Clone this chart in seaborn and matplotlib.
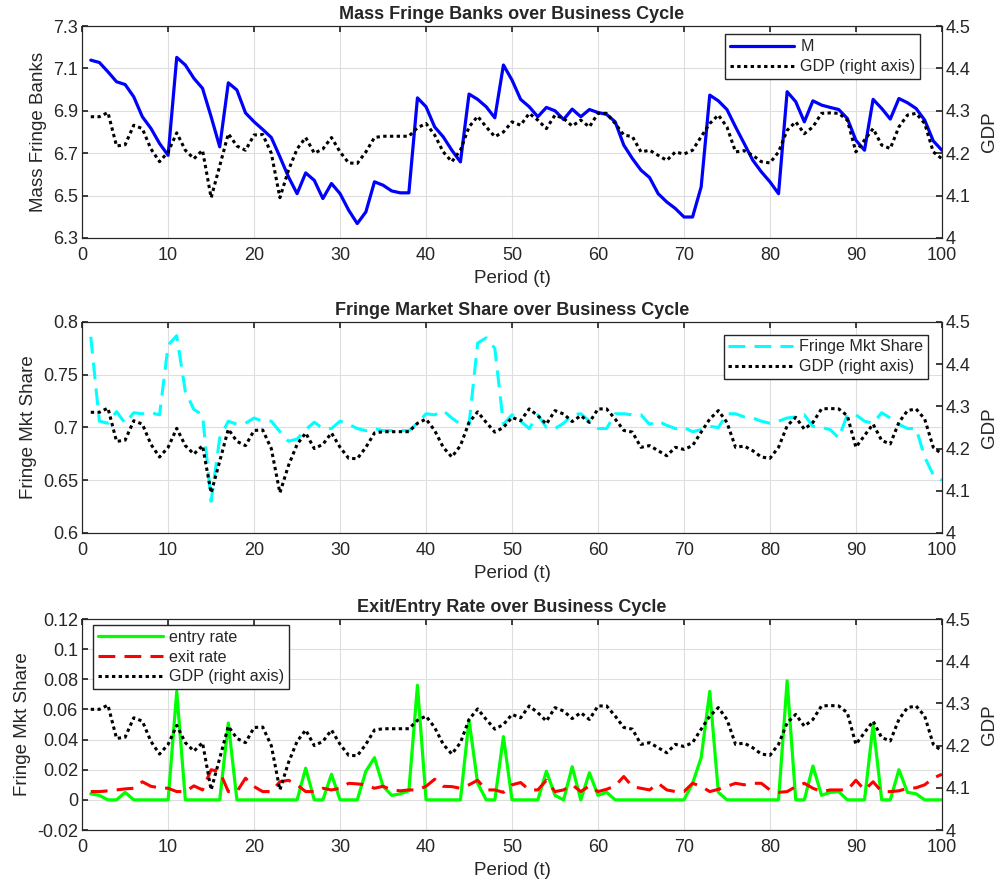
import numpy as np
import pandas as pd
import matplotlib
matplotlib.use('Agg')
import matplotlib.pyplot as plt
import seaborn as sns
from matplotlib.ticker import FuncFormatter

sns.set_theme(style='white')
plt.rcParams['font.family'] = ['Liberation Sans', 'DejaVu Sans']

# data
period = np.arange(1, 101)

gdp = [4.286, 4.286, 4.296, 4.217, 4.22, 4.266, 4.258, 4.21, 4.18, 4.203,
       4.248, 4.207, 4.187, 4.207, 4.095, 4.17, 4.246, 4.217, 4.207, 4.243,
       4.244, 4.2, 4.095, 4.16, 4.21, 4.237, 4.2, 4.21, 4.237, 4.203,
       4.177, 4.176, 4.203, 4.237, 4.24, 4.24, 4.24, 4.24, 4.26, 4.27,
       4.243, 4.203, 4.18, 4.207, 4.262, 4.287, 4.262, 4.239, 4.25, 4.274,
       4.266, 4.294, 4.278, 4.258, 4.29, 4.282, 4.264, 4.278, 4.262, 4.294,
       4.294, 4.27, 4.243, 4.239, 4.203, 4.207, 4.195, 4.183, 4.203, 4.198,
       4.207, 4.239, 4.27, 4.29, 4.262, 4.203, 4.206, 4.195, 4.18, 4.177,
       4.203, 4.254, 4.274, 4.246, 4.262, 4.294, 4.295, 4.294, 4.278, 4.203,
       4.231, 4.258, 4.219, 4.211, 4.262, 4.29, 4.294, 4.27, 4.203, 4.187]

mass_fringe = [7.139, 7.128, 7.084, 7.037, 7.024, 6.966, 6.872, 6.817, 6.746, 6.69,
               7.152, 7.116, 7.053, 7.006, 6.872, 6.73, 7.032, 6.998, 6.89, 6.848,
               6.812, 6.774, 6.683, 6.588, 6.509, 6.607, 6.572, 6.486, 6.557, 6.509,
               6.431, 6.368, 6.423, 6.565, 6.549, 6.522, 6.513, 6.513, 6.961, 6.919,
               6.824, 6.777, 6.714, 6.659, 6.979, 6.954, 6.919, 6.867, 7.116, 7.045,
               6.954, 6.919, 6.872, 6.916, 6.9, 6.859, 6.908, 6.872, 6.906, 6.892,
               6.883, 6.848, 6.738, 6.675, 6.62, 6.585, 6.509, 6.47, 6.439, 6.399,
               6.399, 6.541, 6.974, 6.947, 6.906, 6.824, 6.746, 6.667, 6.612, 6.565,
               6.509, 6.99, 6.943, 6.848, 6.947, 6.927, 6.916, 6.906, 6.864, 6.761,
               6.714, 6.954, 6.911, 6.861, 6.958, 6.938, 6.911, 6.856, 6.758, 6.714]

fringe_share = [0.786, 0.706, 0.704, 0.715, 0.704, 0.714, 0.713, 0.714, 0.712, 0.778,
                0.787, 0.734, 0.717, 0.712, 0.63, 0.69, 0.706, 0.703, 0.704, 0.709,
                0.706, 0.706, 0.696, 0.687, 0.689, 0.698, 0.705, 0.699, 0.699, 0.706,
                0.703, 0.699, 0.697, 0.699, 0.697, 0.697, 0.697, 0.697, 0.704, 0.713,
                0.712, 0.716, 0.709, 0.703, 0.703, 0.78, 0.785, 0.775, 0.703, 0.712,
                0.706, 0.699, 0.712, 0.7, 0.699, 0.704, 0.712, 0.713, 0.706, 0.699,
                0.699, 0.713, 0.713, 0.712, 0.712, 0.703, 0.706, 0.702, 0.699, 0.7,
                0.696, 0.698, 0.701, 0.7, 0.713, 0.713, 0.71, 0.709, 0.706, 0.704,
                0.706, 0.709, 0.71, 0.712, 0.701, 0.7, 0.698, 0.69, 0.712, 0.712,
                0.706, 0.704, 0.714, 0.709, 0.703, 0.699, 0.699, 0.672, 0.655, 0.65]

entry_rate = [0.004, 0.003, 0, 0, 0.005, 0, 0, 0, 0, 0,
              0.072, 0, 0, 0, 0, 0, 0.051, 0, 0, 0,
              0, 0, 0, 0, 0, 0.021, 0, 0, 0.017, 0,
              0, 0, 0.019, 0.028, 0.009, 0.003, 0.004, 0.006, 0.076, 0,
              0, 0, 0, 0, 0.053, 0.011, 0, 0, 0.042, 0,
              0, 0, 0, 0.019, 0.003, 0, 0.022, 0, 0.018, 0.003,
              0.005, 0, 0, 0, 0, 0, 0, 0, 0, 0,
              0.011, 0.028, 0.072, 0.005, 0, 0, 0, 0, 0, 0,
              0, 0.079, 0, 0, 0.0225, 0.003, 0.005, 0.0055, 0, 0,
              0, 0.05, 0, 0, 0.02, 0.005, 0.004, 0, 0, 0]

exit_rate = [0.0055, 0.0055, 0.006, 0.0066, 0.0073, 0.0077, 0.012, 0.009, 0.008, 0.0077,
             0.0055, 0.0055, 0.0093, 0.0066, 0.02, 0.0188, 0.0055, 0.0055, 0.0144, 0.0088,
             0.0055, 0.0055, 0.012, 0.013, 0.01, 0.0055, 0.0055, 0.0077, 0.0066, 0.0077,
             0.011, 0.0106, 0.01, 0.0077, 0.009, 0.0066, 0.006, 0.0066, 0.0066, 0.009,
             0.0137, 0.009, 0.0088, 0.0077, 0.01, 0.013, 0.0066, 0.0066, 0.005, 0.01,
             0.0115, 0.0066, 0.0066, 0.013, 0.0055, 0.0066, 0.01, 0.0055, 0.0093, 0.0055,
             0.007, 0.0093, 0.0155, 0.0088, 0.0077, 0.0066, 0.011, 0.0066, 0.0055, 0.0055,
             0.011, 0.009, 0.0055, 0.007, 0.009, 0.011, 0.01, 0.011, 0.011, 0.0066,
             0.005, 0.0055, 0.0088, 0.011, 0.0077, 0.0055, 0.0066, 0.0066, 0.0066, 0.013,
             0.0066, 0.012, 0.0055, 0.0055, 0.006, 0.0077, 0.008, 0.01, 0.0144, 0.017]

df = pd.DataFrame({'t': period, 'gdp': gdp, 'mass': mass_fringe, 'share': fringe_share,
                   'entry': entry_rate, 'exit': exit_rate})

DOT = (0, (1.1, 1.1))
DASH = (0, (5.5, 3))
AXC = '#262626'
TICK_FS = 13
LABEL_FS = 13.5
TITLE_FS = 13
LEG_FS = 11.6
fmt = FuncFormatter(lambda v, p: '%g' % round(v, 4))


def matlab_look(ax, lim, ticks, twin=False):
    ax.set_xlim(0, 100)
    ax.set_xticks(range(0, 101, 10))
    ax.set_ylim(*lim)
    ax.set_yticks(ticks)
    ax.yaxis.set_major_formatter(fmt)
    ax.set_xlabel('')
    ax.set_ylabel('')
    if twin:
        ax.tick_params(axis='y', direction='in', length=4, left=False, right=True,
                       labelsize=TICK_FS, colors=AXC, pad=3)
        ax.grid(False)
    else:
        ax.grid(True, color='#dedede', linewidth=0.8)
        ax.tick_params(direction='in', length=4, top=True, right=True,
                       labelsize=TICK_FS, colors=AXC, pad=3)
        ax.tick_params(axis='x', pad=6.5)
    for s in ax.spines.values():
        s.set_color(AXC)
        s.set_linewidth(0.8)


def legend_box(ax, handles, labels, loc, anchor):
    ax.legend(handles, labels, loc=loc, bbox_to_anchor=anchor, borderaxespad=0,
              fontsize=LEG_FS, handlelength=4, frameon=True, fancybox=False,
              edgecolor=AXC, framealpha=1, labelspacing=0.3, borderpad=0.3,
              handletextpad=0.4)


def labels(ax, ax2, title, ylabel):
    ax.set_title(title, fontsize=TITLE_FS, fontweight='bold', pad=5)
    ax.set_xlabel('Period (t)', fontsize=LABEL_FS, color=AXC, labelpad=4)
    ax.set_ylabel(ylabel, fontsize=LABEL_FS, color=AXC, labelpad=4)
    ax2.set_ylabel('GDP', fontsize=LABEL_FS, color=AXC, rotation=90, labelpad=7)


fig = plt.figure(figsize=(10.02, 8.88), dpi=100)
boxes = [[0.082, 0.732, 0.858, 0.2387],
         [0.082, 0.3998, 0.858, 0.2376],
         [0.082, 0.0653, 0.858, 0.2376]]
gdp_ticks = np.arange(4, 4.51, 0.1)

# panel 1
ax = fig.add_axes(boxes[0])
sns.lineplot(data=df, x='t', y='mass', ax=ax, color='blue', lw=2.3, legend=False)
h1 = ax.lines[-1]
matlab_look(ax, (6.3, 7.3), np.arange(6.3, 7.31, 0.2))
ax2 = ax.twinx()
sns.lineplot(data=df, x='t', y='gdp', ax=ax2, color='black', lw=2.2, ls=DOT, legend=False)
h2 = ax2.lines[-1]
matlab_look(ax2, (4, 4.5), gdp_ticks, twin=True)
labels(ax, ax2, 'Mass Fringe Banks over Business Cycle', 'Mass Fringe Banks')
legend_box(ax2, [h1, h2], ['M', 'GDP (right axis)'], 'upper right', (0.975, 0.96))

# panel 2
ax = fig.add_axes(boxes[1])
sns.lineplot(data=df, x='t', y='share', ax=ax, color='cyan', lw=2.2, ls=DASH, legend=False)
h1 = ax.lines[-1]
matlab_look(ax, (0.6, 0.8), np.arange(0.6, 0.801, 0.05))
ax2 = ax.twinx()
sns.lineplot(data=df, x='t', y='gdp', ax=ax2, color='black', lw=2.2, ls=DOT, legend=False)
h2 = ax2.lines[-1]
matlab_look(ax2, (4, 4.5), gdp_ticks, twin=True)
labels(ax, ax2, 'Fringe Market Share over Business Cycle', 'Fringe Mkt Share')
legend_box(ax2, [h1, h2], ['Fringe Mkt Share', 'GDP (right axis)'], 'upper right', (0.984, 0.94))

# panel 3
ax = fig.add_axes(boxes[2])
sns.lineplot(data=df, x='t', y='entry', ax=ax, color='lime', lw=2.3, legend=False)
h1 = ax.lines[-1]
sns.lineplot(data=df, x='t', y='exit', ax=ax, color='red', lw=2.2, ls=DASH, legend=False)
h2 = ax.lines[-1]
matlab_look(ax, (-0.02, 0.12), np.arange(-0.02, 0.121, 0.02))
ax2 = ax.twinx()
sns.lineplot(data=df, x='t', y='gdp', ax=ax2, color='black', lw=2.2, ls=DOT, legend=False)
h3 = ax2.lines[-1]
matlab_look(ax2, (4, 4.5), gdp_ticks, twin=True)
labels(ax, ax2, 'Exit/Entry Rate over Business Cycle', 'Fringe Mkt Share')
legend_box(ax2, [h1, h2, h3], ['entry rate', 'exit rate', 'GDP (right axis)'], 'upper left',
           (0.013, 0.972))

fig.savefig('out.png', dpi=100)
